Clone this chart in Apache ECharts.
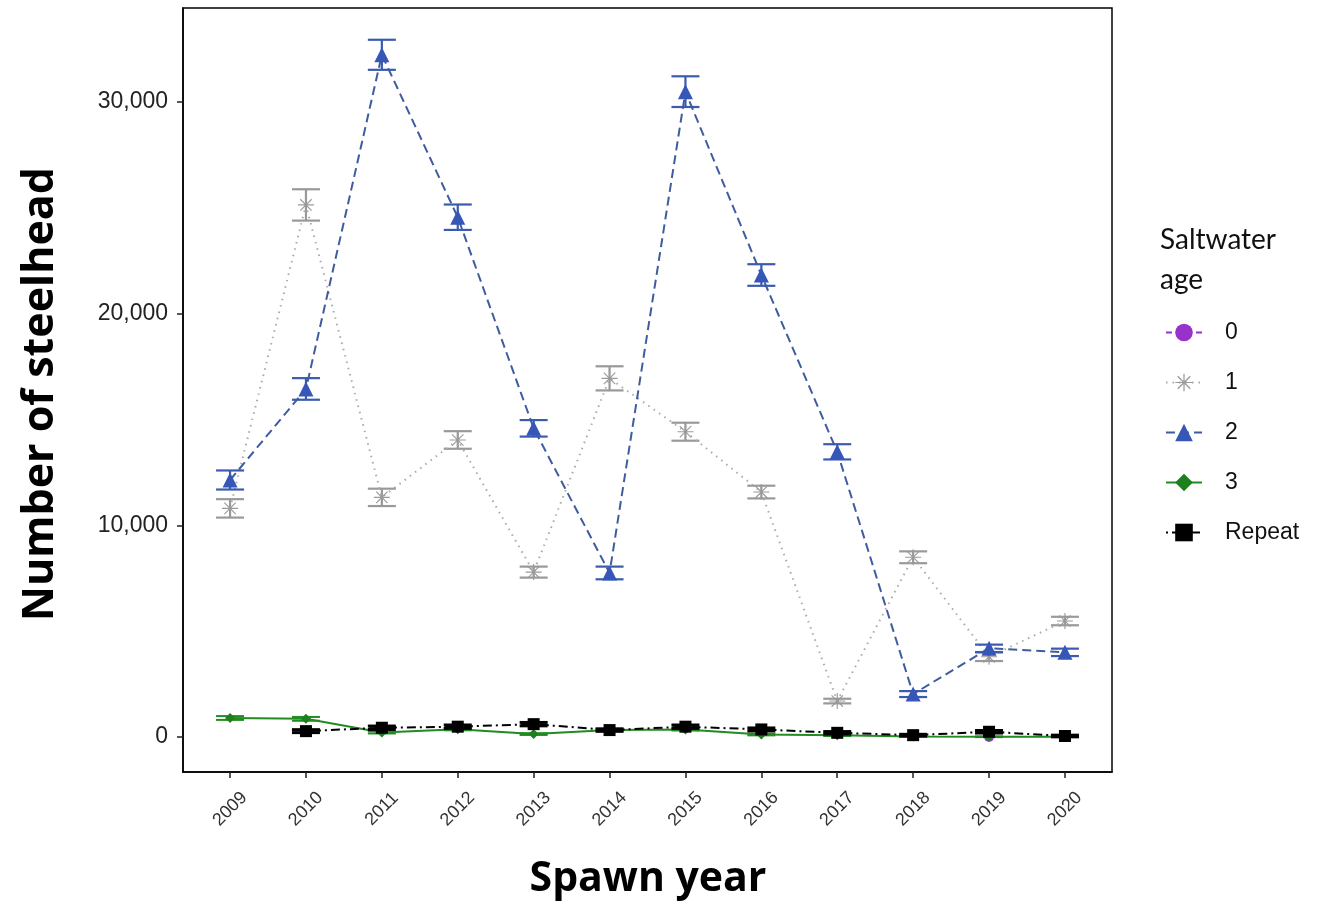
<!DOCTYPE html>
<html>
<head>
<meta charset="utf-8">
<script src="https://cdn.jsdelivr.net/npm/echarts@6/dist/echarts.min.js"></script>
<style>html,body{margin:0;padding:0;background:#fff}#c{width:1321px;height:908px}</style>
</head>
<body>
<div id="c"></div>
<script>
const years = [2009,2010,2011,2012,2013,2014,2015,2016,2017,2018,2019,2020];
const yTicks = [0,10000,20000,30000];
const age0 = [null,null,null,null,null,null,null,null,null,null,10,null];
const age0Err = [null,null,null,null,null,null,null,null,null,null,10,null];
const age1 = [10800,25130,11320,14030,7790,16940,14420,11570,1700,8490,3790,5480];
const age1Err = [435,740,410,415,260,570,425,300,110,280,200,200];
const age2 = [12140,16440,32220,24550,14580,7750,30480,21820,13470,2030,4190,4000];
const age2Err = [450,510,710,600,390,300,725,510,360,140,175,175];
const age3 = [900,860,220,370,140,330,360,120,80,30,10,20];
const age3Err = [90,90,50,50,40,40,50,40,30,20,10,10];
const repeatFish = [null,280,440,490,610,330,490,360,200,90,250,50];
const repeatErr = [null,70,80,80,80,60,80,70,60,40,60,40];

const asterisk = 'path://M9.3,0L10.7,0L10.7,20L9.3,20Z M0,9.3L20,9.3L20,10.7L0,10.7Z M2.4,3.4L3.4,2.4L17.6,16.6L16.6,17.6Z M16.6,2.4L17.6,3.4L3.4,17.6L2.4,16.6Z';

function pts(vals){ return years.map((y,i)=> vals[i]==null ? null : [y, vals[i]]).filter(d=>d); }
function errPts(vals, errs){ return years.map((y,i)=> vals[i]==null ? null : [y, vals[i]-errs[i], vals[i]+errs[i]]).filter(d=>d); }

function errSeries(vals, errs, color, lw, z){
  return {
    type:'custom', silent:true, z:z,
    data: errPts(vals, errs),
    encode:{x:0, y:[1,2]},
    renderItem:function(params, api){
      const x = api.value(0), lo = api.value(1), hi = api.value(2);
      const a = api.coord([x, lo]), b = api.coord([x, hi]);
      const hw = 14;
      const st = {stroke:color, lineWidth:lw};
      return {type:'group', children:[
        {type:'line', shape:{x1:a[0],y1:a[1],x2:b[0],y2:b[1]}, style:st},
        {type:'line', shape:{x1:a[0]-hw,y1:a[1],x2:a[0]+hw,y2:a[1]}, style:st},
        {type:'line', shape:{x1:b[0]-hw,y1:b[1],x2:b[0]+hw,y2:b[1]}, style:st}
      ]};
    }
  };
}

function lineSeries(name, vals, color, lineType, symbol, size, z, lineColor){
  return {
    type:'line', name:name, data:pts(vals), z:z,
    symbol:symbol, symbolSize:size,
    itemStyle:{color:color},
    lineStyle:{color:lineColor||color, width:2, type:lineType},
    animation:false
  };
}

const chart = echarts.init(document.getElementById('c'), null, {renderer:'canvas'});
chart.setOption({
  animation:false,
  backgroundColor:'#fff',
  grid:{left:183, right:209, top:8, bottom:136, show:true, borderColor:'#000', borderWidth:1.5, backgroundColor:'#fff'},
  xAxis:{
    type:'value', min:2008.38, max:2020.62,
    axisLine:{show:true, onZero:false, lineStyle:{color:'#000', width:1.5}},
    axisTick:{show:true, customValues:years, length:6, lineStyle:{color:'#222', width:1.5}},
    axisLabel:{customValues:years, rotate:45, align:'center', verticalAlign:'middle', margin:37,
      fontFamily:'Liberation Sans', fontSize:18, color:'#333', formatter:v=>String(v)},
    splitLine:{show:false}
  },
  yAxis:{
    type:'value', min:-1650, max:34430,
    axisLine:{show:true, onZero:false, lineStyle:{color:'#000', width:1.5}},
    axisTick:{show:true, customValues:yTicks, length:6, lineStyle:{color:'#222', width:1.5}},
    axisLabel:{customValues:yTicks, margin:15, fontFamily:'Liberation Sans', fontSize:23, color:'#222',
      formatter:v=>v.toLocaleString('en-US')},
    splitLine:{show:false}
  },
  legend:{
    orient:'vertical', left:1160, top:316, itemWidth:36, itemHeight:22, itemGap:27,
    data:['0','1','2','3','Repeat'],
    textStyle:{fontFamily:'Liberation Sans', fontSize:23, color:'#111', lineHeight:20, padding:[0,0,0,18]}
  },
  graphic:[
    {type:'text', left:1160, top:226, style:{text:'Saltwater', font:'28px Lato', fill:'#111'}},
    {type:'text', left:1160, top:266, style:{text:'age', font:'28px Lato', fill:'#111'}},
    {type:'text', x:648, y:879, style:{text:'Spawn year', font:'bold 41px "Open Sans"', fill:'#000', textAlign:'center', textVerticalAlign:'middle'}},
    {type:'text', x:41, y:394, rotation:Math.PI/2, style:{text:'Number of steelhead', font:'bold 43px "Open Sans"', fill:'#000', textAlign:'center', textVerticalAlign:'middle'}}
  ],
  series:[
    errSeries(age0, age0Err, '#9932CC', 2, 2),
    lineSeries('0', age0, '#9932CC', [6,4], 'circle', 10, 3),
    errSeries(age1, age1Err, '#999999', 2.2, 2),
    lineSeries('1', age1, '#9a9a9a', [1.5,5], asterisk, 16, 3, '#aaaaaa'),
    errSeries(age2, age2Err, '#3A5BAE', 2.2, 4),
    lineSeries('2', age2, '#3656B8', [9,5], 'triangle', 15, 5, '#3F5C9E'),
    errSeries(age3, age3Err, '#228B22', 2, 6),
    lineSeries('3', age3, '#1E7F1E', 'solid', 'diamond', 10, 7, '#228B22'),
    errSeries(repeatFish, repeatErr, '#000000', 3, 8),
    lineSeries('Repeat', repeatFish, '#000000', [2,4,9,4], 'rect', 12, 9)
  ]
});
</script>
</body>
</html>
